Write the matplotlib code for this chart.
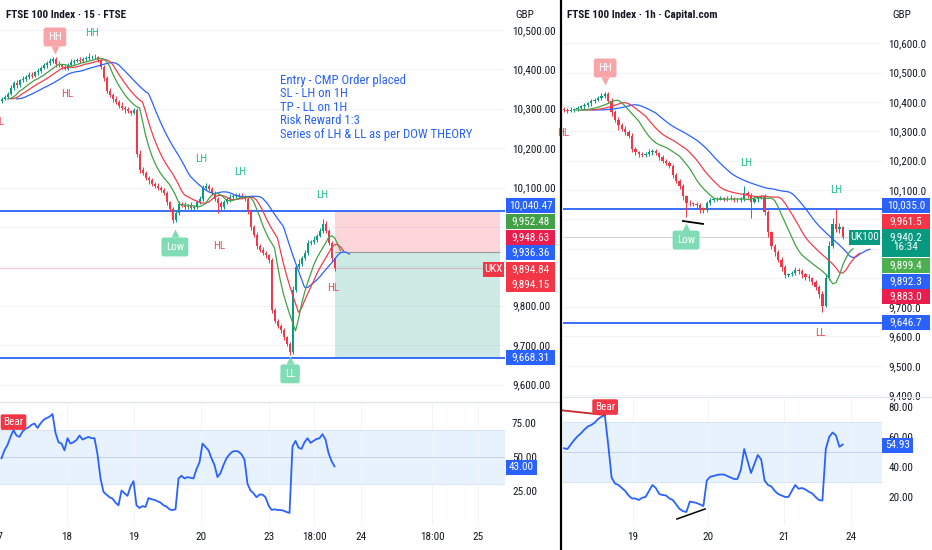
import numpy as np
import pandas as pd
import matplotlib
matplotlib.use("Agg")
import matplotlib.pyplot as plt
import matplotlib.transforms as mtransforms
from matplotlib import font_manager as fm
from matplotlib.patches import Rectangle
from matplotlib.lines import Line2D
from matplotlib.ticker import FuncFormatter

W, H = 932, 550

# narrow face if one is installed, else Liberation Sans
_fonts = {(f.name, f.stretch) for f in fm.fontManager.ttflist}
_names = {n for n, _ in _fonts}
STRETCH = 'normal'
NARROW = True
if 'Liberation Sans Narrow' in _names:
    FAMILY = 'Liberation Sans Narrow'
elif 'Roboto Condensed' in _names:
    FAMILY = 'Roboto Condensed'
elif ('DejaVu Sans', 'condensed') in _fonts or ('DejaVu Sans', 'semi-condensed') in _fonts:
    FAMILY, STRETCH = 'DejaVu Sans', 'condensed'
else:
    FAMILY, NARROW = 'Liberation Sans', False
plt.rcParams['font.family'] = [FAMILY, 'DejaVu Sans']
plt.rcParams['font.stretch'] = STRETCH
FS = 8 if NARROW else 7  # scale text size

GREEN = '#089981'
RED = '#f23645'
BLUE = '#2962ff'
TXT = '#131722'
LBL_GREEN = '#26c089'
LBL_RED = '#f0505a'

# ---- left chart: FTSE 100, 15 min ----
l_first_open = 10320
l_close = [10325, 10330, 10338, 10352, 10366, 10360, 10372, 10376, 10380, 10386,
           10384, 10392, 10396, 10404, 10410, 10416, 10420, 10425, 10414, 10410,
           10406, 10402, 10412, 10418, 10422, 10424, 10420, 10426, 10428, 10430,
           10432, 10430, 10424, 10405, 10378, 10345, 10335, 10325, 10318, 10308,
           10302, 10298, 10293, 10290, 10296, 10185, 10145, 10138, 10125, 10118,
           10110, 10104, 10100, 10094, 10086, 10062, 10045, 10018, 10035, 10058,
           10055, 10050, 10052, 10048, 10050, 10062, 10072, 10098, 10104, 10096,
           10086, 10072, 10060, 10050, 10062, 10070, 10076, 10078, 10081, 10079,
           10076, 10072, 10040, 10000, 9980, 9952, 9942, 9933, 9928, 9915,
           9790, 9762, 9748, 9738, 9720, 9704, 9682, 9840, 9898, 9906,
           9920, 9934, 9958, 9962, 9968, 9978, 9990, 10008, 9990, 9960,
           9920, 9895]
l_wick_up = [5, 6, 4, 8, 5, 7, 4, 6, 5, 7,
             6, 4, 7, 5, 6, 4, 8, 7, 5, 6,
             4, 6, 5, 7, 4, 5, 8, 6, 5, 12,
             4, 6, 5, 4, 6, 5, 7, 4, 6, 5,
             8, 5, 6, 4, 7, 5, 9, 6, 5, 4,
             6, 5, 7, 4, 5, 6, 4, 5, 6, 8,
             5, 9, 6, 12, 5, 7, 6, 9, 8, 5,
             6, 4, 5, 7, 6, 5, 8, 6, 5, 4,
             6, 5, 4, 6, 5, 7, 4, 6, 5, 4,
             6, 5, 4, 6, 5, 4, 3, 10, 6, 12,
             5, 7, 9, 6, 8, 5, 7, 12, 6, 5,
             4, 4]
l_wick_dn = [5, 4, 6, 4, 5, 7, 4, 5, 6, 4,
             5, 4, 6, 5, 4, 6, 5, 4, 7, 5,
             6, 5, 4, 5, 6, 4, 5, 4, 6, 5,
             4, 5, 6, 5, 8, 6, 5, 7, 6, 5,
             6, 8, 5, 6, 4, 8, 7, 6, 5, 8,
             6, 5, 7, 6, 5, 6, 5, 8, 6, 5,
             4, 6, 5, 4, 6, 5, 4, 6, 5, 4,
             5, 6, 25, 6, 5, 4, 6, 5, 4, 5,
             6, 5, 6, 7, 5, 8, 6, 5, 7, 6,
             8, 6, 5, 7, 6, 5, 6, 5, 6, 5,
             4, 5, 6, 4, 5, 6, 4, 5, 6, 7,
             8, 6]
l_rsi = [49, 55, 59, 65, 70, 66, 65, 69, 71, 72,
         74, 75, 71.6, 75, 77.6, 79, 80, 82, 68, 61,
         60, 55, 64, 60, 61, 62.7, 66, 63, 64, 65,
         64, 64, 52, 34, 24, 22, 20, 19, 16, 14,
         25, 23, 21, 28, 32, 14, 12, 13.4, 12.7, 19.4,
         18.5, 18, 17, 16, 14, 13, 11, 10.4, 11, 34,
         36, 34, 35, 34.5, 34, 41, 46, 60, 57.5, 55,
         49, 44, 35, 38, 44, 49, 52, 54, 54.5, 54,
         52, 48, 30, 25, 23, 20, 22, 22, 20, 14,
         10.5, 11, 10.5, 10.5, 10, 9, 8.3, 58, 62, 57,
         56, 61, 64, 60.5, 62, 63.4, 64, 67, 63, 53,
         47, 43]
l_dates = ["17", "18", "19", "20", "23", "18:00", "24", "18:00", "25"]
l_sl, l_entry, l_tp = 10040.47, 9936.36, 9668.31
l_last = 9894.84
l_note = ["Entry - CMP Order placed", "SL - LH on 1H", "TP - LL on 1H",
          "Risk Reward 1:3", "Series of LH & LL as per DOW THEORY"]

# ---- right chart: FTSE 100, 1h ----
r_first_open = 10376
r_close = [10373, 10370, 10372, 10376, 10380, 10385, 10389, 10395, 10402, 10408,
           10414, 10420, 10427, 10405, 10365, 10340, 10320, 10308, 10298, 10285,
           10240, 10228, 10221, 10220, 10222, 10228, 10232, 10225, 10212, 10200,
           10192, 10182, 10150, 10130, 10112, 10078, 10056, 10054, 10052, 10048,
           10038, 10032, 10055, 10066, 10068, 10070, 10071, 10070, 10069, 10070,
           10066, 10064, 10070, 10090, 10082, 10060, 10068, 10074, 10078, 10025,
           9955, 9908, 9887, 9862, 9838, 9810, 9812, 9818, 9827, 9822,
           9812, 9804, 9798, 9787, 9768, 9745, 9705, 9800, 9910, 9985,
           9965, 9972, 9940]
r_wick_up = [8, 6, 10, 5, 7, 6, 9, 5, 8, 6,
             7, 9, 6, 8, 10, 6, 8, 7, 9, 6,
             8, 6, 5, 7, 6, 12, 8, 6, 5, 7,
             6, 8, 5, 7, 6, 9, 5, 8, 6, 7,
             6, 5, 8, 7, 6, 5, 7, 6, 8, 12,
             6, 5, 7, 24, 6, 8, 7, 6, 5, 9,
             8, 6, 9, 7, 8, 6, 5, 7, 10, 6,
             7, 6, 8, 5, 7, 6, 9, 12, 15, 18,
             50, 15, 6]
r_wick_dn = [6, 8, 5, 7, 6, 5, 8, 6, 7, 5,
             6, 8, 5, 10, 12, 9, 15, 8, 10, 7,
             12, 9, 8, 6, 7, 5, 8, 6, 9, 7,
             8, 6, 10, 8, 9, 12, 50, 10, 8, 12,
             18, 10, 6, 5, 7, 6, 5, 8, 6, 5,
             7, 6, 5, 8, 10, 57, 6, 8, 5, 12,
             15, 10, 12, 9, 14, 10, 8, 6, 7, 9,
             12, 10, 8, 11, 9, 13, 20, 6, 8, 7,
             10, 12, 8]
r_rsi = [52.5, 52, 55, 58, 60.5, 62.5, 65, 67, 68, 69.5,
         72, 73.5, 74.7, 55, 33, 29, 28, 26, 24, 21,
         19, 19, 18, 19.5, 20, 24, 28, 26, 22, 21.3,
         21, 19, 18, 15, 12, 10.5, 10, 16.9, 16.5, 16,
         15, 14, 31, 33.5, 34, 34.7, 35, 35, 34, 33,
         32, 32, 38, 52, 44, 36, 42, 48, 45, 31,
         28, 27, 24, 22, 21, 20, 20, 24, 28, 25.5,
         26, 25, 23.5, 22.4, 20, 18, 17.6, 52, 60, 63,
         61, 53.5, 55]
r_dates = ["19", "20", "21", "24"]
r_sl, r_tp, r_last = 10035.0, 9646.7, 9940.2


def box(px0, py0, px1, py1):
    return [px0 / W, 1 - py1 / H, (px1 - px0) / W, (py1 - py0) / H]


def style(ax, fmt, pad):
    for s in ax.spines.values():
        s.set_visible(False)
    ax.set_facecolor('none')
    ax.yaxis.tick_right()
    ax.tick_params(axis='y', length=0, labelsize=FS, labelcolor=TXT, pad=pad)
    ax.set_xticks([])
    ax.yaxis.set_major_formatter(FuncFormatter(fmt))


def candles(ax, first_open, close, up, dn, width):
    close = np.asarray(close, float)
    opn = np.r_[first_open, close[:-1]]
    hi = np.maximum(opn, close) + np.asarray(up)
    lo = np.minimum(opn, close) - np.asarray(dn)
    idx = np.arange(len(close))
    col = np.where(close >= opn, GREEN, RED)
    ax.vlines(idx, lo, hi, colors=col, lw=0.7, zorder=3)
    ax.bar(idx, np.maximum(np.abs(close - opn), 1.5), bottom=np.minimum(opn, close),
           width=width, color=col, lw=0, zorder=3)


def alligator(ax, close, spans, shifts):
    idx = np.arange(len(close))
    for n, sh, c in zip(spans, shifts, [BLUE, '#ef3e4d', '#43a047']):
        s = pd.Series(close, dtype=float).ewm(alpha=1 / n, adjust=False).mean()
        ax.plot(idx + sh, s.values, color=c, lw=0.9, zorder=4)


def tag(x0, x1, yc, text, fc, h=15):
    fig.add_artist(Rectangle((x0 / W, 1 - (yc + h / 2) / H), (x1 - x0) / W, h / H,
                             transform=fig.transFigure, fc=fc, ec='none', zorder=8))
    fig.text((x0 + x1) / 2 / W, 1 - yc / H, text, color='white', fontsize=FS,
             ha='center', va='center', zorder=9, linespacing=1.0)


def flag(ax, x, y, text, fc, tip_y, marker):
    ax.text(x, y, text, ha='center', va='center', color='white', fontsize=FS, zorder=7,
            bbox=dict(boxstyle='round,pad=0.4,rounding_size=0.2', fc=fc, ec='none'))
    ax.plot([x], [tip_y], marker=marker, ms=6, color=fc, mec='none', zorder=7)


def date_labels(ax, pos, labels):
    tr = mtransforms.blended_transform_factory(ax.transData, fig.transFigure)
    for p, t in zip(pos, labels):
        ax.text(p, 1 - 537 / H, t, transform=tr, ha='center', va='center',
                fontsize=FS, color=TXT, clip_on=False)
        ax.axvline(p, color='#f0f3fa', lw=0.7, zorder=0)


fig = plt.figure(figsize=(W / 100, H / 100), dpi=100)
fig.patch.set_facecolor('white')

# left price pane
ax = fig.add_axes(box(0, 0, 505, 402))
style(ax, lambda v, _: f"{v:,.2f}", 5)
ax.set_xlim(-0.5, 167.83)
ax.set_ylim(9555.6, 10575.9)
ax.set_yticks([10500, 10400, 10300, 10200, 10100, 9800, 9700, 9600])
for v in [10500, 10400, 10300, 10200, 10100, 10000, 9900, 9800, 9700, 9600]:
    ax.axhline(v, color='#f0f3fa', lw=0.7, zorder=0)
n = len(l_close)
ax.add_patch(Rectangle((n - 1, l_entry), 166.2 - (n - 1), l_sl - l_entry,
                       fc=RED, alpha=0.2, ec='none', zorder=1))
ax.add_patch(Rectangle((n - 1, l_tp), 166.2 - (n - 1), l_entry - l_tp,
                       fc=GREEN, alpha=0.2, ec='none', zorder=1))
ax.hlines(l_entry, n - 1, 166.2, color='#9598a1', lw=0.8, zorder=2)
ax.axhline(l_sl, color=BLUE, lw=1.3, zorder=2)
ax.axhline(l_tp, color=BLUE, lw=1.3, zorder=2)
ax.axhline(l_last, color=RED, lw=0.7, alpha=0.3, zorder=2)
candles(ax, l_first_open, l_close, l_wick_up, l_wick_dn, 0.65)
alligator(ax, l_close, [9, 5.5, 3.5], [5, 3, 2])
flag(ax, 17.8, 10482, "HH", '#f7a5a8', 10449, 'v')
flag(ax, 57.8, 9949, "Low", '#7fdcb5', 9984, '^')
flag(ax, 96.2, 9627, "LL", '#7fdcb5', 9662, '^')
for x, y, t, c in [(30.2, 10492, "HH", LBL_GREEN), (21.8, 10337, "HL", LBL_RED),
                   (-1.2, 10266, "HL", LBL_RED), (66.5, 10172, "LH", LBL_GREEN),
                   (79.5, 10139, "LH", LBL_GREEN), (72.5, 9951, "HL", LBL_RED),
                   (106.8, 10081, "LH", LBL_GREEN), (110.5, 9845, "HL", LBL_RED)]:
    ax.text(x, y, t, color=c, fontsize=FS, ha='center', va='center', zorder=7, clip_on=False)
ax.text(92.8, 10389, "\n".join(l_note), color=BLUE, fontsize=FS + 1.2, ha='left', va='top',
        linespacing=1.05, zorder=7)

# left RSI pane
ax2 = fig.add_axes(box(0, 402, 505, 525))
style(ax2, lambda v, _: f"{v:.2f}", 5)
ax2.set_xlim(-0.5, 167.83)
ax2.set_ylim(-0.7, 91)
ax2.set_yticks([75, 50, 25])
ax2.axhspan(30, 70, color='#e8f2fd', lw=0, zorder=0)
for v in (70, 30):
    ax2.axhline(v, color='#d6e4f5', lw=0.7, zorder=1)
ax2.axhline(50, color='#c5d3e6', lw=0.7, zorder=1)
ax2.plot(np.arange(len(l_rsi)), l_rsi, color=BLUE, lw=1.3, zorder=3)
date_labels(ax2, [-1.2, 21.8, 44.2, 66.5, 89.2, 104.2, 119.8, 143.5, 158.8], l_dates)
ax2.text(4, 76, "Bear", color='white', fontsize=FS, ha='center', va='center', zorder=7,
         bbox=dict(boxstyle='round,pad=0.25,rounding_size=0.15', fc=RED, ec='none'))

# right price pane
ax3 = fig.add_axes(box(563, 0, 882, 397))
style(ax3, lambda v, _: f"{v:,.1f}", 4.5)
ax3.set_xlim(-0.294, 93.53)
ax3.set_ylim(9393.5, 10748)
ax3.set_yticks([10600, 10500, 10400, 10300, 10200, 10100, 9700, 9600, 9500, 9400])
for v in range(9400, 10700, 100):
    ax3.axhline(v, color='#f0f3fa', lw=0.7, zorder=0)
ax3.axhline(r_sl, color=BLUE, lw=1.3, zorder=2)
ax3.axhline(r_tp, color=BLUE, lw=1.3, zorder=2)
ax3.axhline(r_last, color='#b2b5be', lw=0.7, alpha=0.6, zorder=2)
candles(ax3, r_first_open, r_close, r_wick_up, r_wick_dn, 0.7)
alligator(ax3, r_close, [13, 8, 5], [8, 5, 3])
flag(ax3, 12.1, 10516, "HH", '#f7a5a8', 10472, 'v')
flag(ax3, 35.9, 9929, "Low", '#7fdcb5', 9974, '^')
ax3.plot([35, 40.9], [9994, 9984], color='black', lw=1.3, zorder=6)
for x, y, t, c in [(-0.3, 10294, "HL", LBL_RED), (53.5, 10192, "LH", LBL_GREEN),
                   (80, 10100, "LH", LBL_GREEN), (75.3, 9612, "LL", LBL_RED)]:
    ax3.text(x, y, t, color=c, fontsize=FS, ha='center', va='center', zorder=7)

# right RSI pane
ax4 = fig.add_axes(box(563, 397, 882, 525))
style(ax4, lambda v, _: f"{v:.2f}", 4.5)
ax4.set_xlim(-0.294, 93.53)
ax4.set_ylim(1.3, 86.7)
ax4.set_yticks([80, 60, 40, 20])
ax4.axhspan(30, 70, color='#e8f2fd', lw=0, zorder=0)
for v in (70, 30):
    ax4.axhline(v, color='#d6e4f5', lw=0.7, zorder=1)
ax4.axhline(50, color='#c5d3e6', lw=0.7, zorder=1)
ax4.plot(np.arange(len(r_rsi)), r_rsi, color=BLUE, lw=1.3, zorder=3)
ax4.plot([-0.6, 12.1], [77.8, 74.7], color='#c62828', lw=1.3, zorder=4, clip_on=False)
ax4.plot([33.2, 41.5], [5.3, 12], color='black', lw=1.1, zorder=4)
ax4.text(12.1, 80, "Bear", color='white', fontsize=FS, ha='center', va='center', zorder=7,
         bbox=dict(boxstyle='round,pad=0.25,rounding_size=0.15', fc=RED, ec='none'))
date_labels(ax4, [20.3, 42.4, 64.7, 84.4], r_dates)

# frame lines
fig.add_artist(Line2D([0, 560 / W], [1 - 402 / H] * 2, color='#e0e3eb', lw=0.8,
                      transform=fig.transFigure))
fig.add_artist(Line2D([563 / W, 1], [1 - 397 / H] * 2, color='#e0e3eb', lw=0.8,
                      transform=fig.transFigure))
fig.add_artist(Line2D([561 / W] * 2, [0, 1], color='black', lw=1.6,
                      transform=fig.transFigure))

# titles
fig.text(6 / W, 1 - 15 / H, "FTSE 100 Index · 15 · FTSE", fontsize=FS, fontweight='bold',
         color=TXT, va='center')
fig.text(567 / W, 1 - 15 / H, "FTSE 100 Index · 1h · Capital.com", fontsize=FS,
         fontweight='bold', color=TXT, va='center')
fig.text(515 / W, 1 - 15 / H, "GBP", fontsize=FS, color=TXT, va='center')
fig.text(892 / W, 1 - 15 / H, "GBP", fontsize=FS, color=TXT, va='center')

# price scale tags, left
tag(506, 555, 205, f"{l_sl:,.2f}", BLUE)
tag(506, 555, 221, "9,952.48", '#43a047')
tag(506, 555, 237, "9,948.63", '#e91e4f')
tag(506, 555, 252, f"{l_entry:,.2f}", BLUE)
tag(483, 504, 269, "UKX", RED)
tag(506, 555, 269, f"{l_last:,.2f}", RED)
tag(506, 555, 284, "9,894.15", RED)
tag(506, 555, 357, f"{l_tp:,.2f}", BLUE)
tag(506, 537, 467, f"{l_rsi[-1]:.2f}", BLUE)

# price scale tags, right
tag(882, 930, 205, f"{r_sl:,.1f}", BLUE)
tag(882, 930, 221, "9,961.5", RED)
tag(882, 930, 242.5, f"{r_last:,.1f}\n16:34", GREEN, h=28)
tag(849, 880, 237, "UK100", GREEN)
tag(882, 930, 265, "9,899.4", '#4caf50')
tag(882, 930, 281, "9,892.3", BLUE)
tag(882, 930, 296, "9,883.0", '#e91e4f')
tag(882, 930, 322, f"{r_tp:,.1f}", BLUE)
tag(882, 913, 445, "54.93", BLUE)

fig.savefig("out.png", dpi=100, facecolor='white')
